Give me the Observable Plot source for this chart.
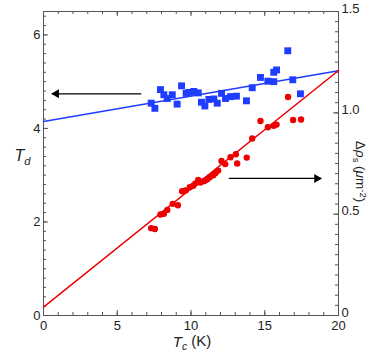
<!DOCTYPE html>
<html><head><meta charset="utf-8">
<script src="https://cdn.jsdelivr.net/npm/d3@7"></script>
<script src="https://cdn.jsdelivr.net/npm/@observablehq/plot@0.6"></script>
<style>body{margin:0;background:#fff} #chart svg{font-family:"Liberation Sans",Arial,sans-serif;}</style>
</head><body><div id="chart"></div>
<script>
// Blue squares: T_d vs T_c (left axis)
const blueTc = [7.30,7.55,7.93,8.16,8.39,8.73,9.06,9.36,9.67,9.85,10.19,10.49,10.71,10.94,11.21,11.55,11.78,12.07,12.34,12.68,13.08,13.76,14.15,14.71,15.21,15.61,15.61,15.80,16.56,16.90,17.42];
const blueTd = [4.54,4.43,4.83,4.72,4.64,4.72,4.52,4.91,4.75,4.77,4.79,4.76,4.56,4.48,4.62,4.63,4.54,4.75,4.64,4.68,4.69,4.59,4.87,5.09,5.01,5.00,5.20,5.25,5.66,5.04,4.74];
// Red circles: Δρs vs T_c (right axis)
const redTc = [7.30,7.55,7.93,8.16,8.39,8.76,9.11,9.40,9.63,9.92,10.15,10.30,10.49,10.64,10.87,11.00,11.10,11.27,11.51,11.66,11.84,12.07,12.32,12.68,13.04,13.13,13.78,14.15,14.71,15.21,15.61,15.80,16.58,16.92,17.46];
const redRho = [0.431,0.427,0.498,0.502,0.521,0.551,0.544,0.613,0.617,0.633,0.640,0.652,0.669,0.656,0.663,0.668,0.672,0.682,0.692,0.703,0.715,0.762,0.747,0.781,0.796,0.750,0.779,0.873,0.960,0.929,0.936,0.942,1.078,0.965,0.967];
// Linear fits
const fitTc = [0, 20];
const blueFitTd = [4.15, 5.235];
const redFitRho = [0.041, 1.209];
// Axes
const xTicks = [0, 5, 10, 15, 20];
const leftTicks = [0, 2, 4, 6];
const rightTicks = [0, 0.5, 1.0, 1.5];
const xMinor = d3.range(0, 20.001, 1);
const leftMinor = d3.range(0, 6.41, 0.2);
const rightMinor = d3.range(0, 1.5001, 0.05);
// Arrows (x in K, y in left-axis units)
const arrowLeft = [{x1: 6.6, x2: 0.6, y: 4.74}];
const arrowRight = [{x1: 12.6, x2: 18.8, y: 2.93}];

const K = 6.5 / 1.5; // right-axis units -> left-axis units
const W = 381, H = 353, mL = 43, mR = 43, mT = 11, mB = 38;
const pw = W - mL - mR, ph = H - mT - mB;
const blue = "#1f3dff", red = "#ee0000", axisC = "#555";

const blueData = blueTc.map((x, i) => ({x, y: blueTd[i]}));
const redData = redTc.map((x, i) => ({x, y: redRho[i] * K}));
const blueFit = fitTc.map((x, i) => ({x, y: blueFitTd[i]}));
const redFit = fitTc.map((x, i) => ({x, y: redFitRho[i] * K}));

const plot = Plot.plot({
  width: W, height: H,
  marginLeft: mL, marginRight: mR, marginTop: mT, marginBottom: mB,
  style: {fontSize: "13px", fontFamily: "'Liberation Sans', Arial, sans-serif", color: "#222"},
  x: {domain: [0, 20]},
  y: {domain: [0, 6.5]},
  marks: [
    // tick marks, inward on all four sides
    Plot.tickX(xMinor, {x: d => d, insetTop: ph - 3, stroke: axisC}),
    Plot.tickX(xTicks, {x: d => d, insetTop: ph - 5, stroke: axisC}),
    Plot.tickX(xMinor, {x: d => d, insetBottom: ph - 3, stroke: axisC}),
    Plot.tickX(xTicks, {x: d => d, insetBottom: ph - 5, stroke: axisC}),
    Plot.tickY(leftMinor, {y: d => d, insetRight: pw - 3, stroke: axisC}),
    Plot.tickY(leftTicks, {y: d => d, insetRight: pw - 5, stroke: axisC}),
    Plot.tickY(rightMinor, {y: d => d * K, insetLeft: pw - 3, stroke: axisC}),
    Plot.tickY(rightTicks, {y: d => d * K, insetLeft: pw - 5, stroke: axisC}),
    Plot.frame({stroke: axisC}),
    Plot.axisX({ticks: xTicks, tickSize: 0, tickPadding: 5, label: null, tickFormat: d => String(d)}),
    Plot.axisY({anchor: "left", ticks: leftTicks, tickSize: 0, tickPadding: 3, label: null, tickFormat: d => String(d)}),
    Plot.axisY({anchor: "right", ticks: rightTicks.map(d => d * K), tickSize: 0, tickPadding: 3, label: null, dy: -3,
      tickFormat: d => { const v = d / K; return Math.abs(v) < 1e-9 ? "0" : d3.format(".1f")(v); }}),
    // data
    Plot.dot(blueData, {x: "x", y: "y", symbol: "square", r: 3.9, fill: blue}),
    Plot.dot(redData, {x: "x", y: "y", symbol: "circle", r: 3.2, fill: red}),
    Plot.line(blueFit, {x: "x", y: "y", stroke: blue, strokeWidth: 1.5}),
    Plot.line(redFit, {x: "x", y: "y", stroke: red, strokeWidth: 1.5}),
    // arrows
    Plot.arrow(arrowLeft, {x1: "x1", x2: "x2", y1: "y", y2: "y", stroke: "black", strokeWidth: 1.2, headLength: 0}),
    Plot.arrow(arrowRight, {x1: "x1", x2: "x2", y1: "y", y2: "y", stroke: "black", strokeWidth: 1.2, headLength: 0}),
    Plot.dot(arrowLeft, {x: "x2", y: "y", symbol: "triangle", r: 3.3, fill: "black", rotate: -90, dx: 4}),
    Plot.dot(arrowRight, {x: "x2", y: "y", symbol: "triangle", r: 3.3, fill: "black", rotate: 90, dx: -4}),
    // axis titles
    Plot.text(["LBL_TD"], {frameAnchor: "left", dx: -21, dy: -8, fontSize: 16, textAnchor: "middle"}),
    Plot.text(["LBL_TC"], {frameAnchor: "bottom", dx: 1, dy: 31, fontSize: 15, textAnchor: "middle"}),
    Plot.text(["LBL_RHO"], {frameAnchor: "right", dx: 22, dy: 8, fontSize: 13.5, textAnchor: "middle", rotate: 90})
  ]
});
document.getElementById("chart").appendChild(plot);

const svg = d3.select(plot);
function rich(key, parts) {
  svg.selectAll("text").filter(function() { return this.textContent === key; }).each(function() {
    const t = d3.select(this); t.text("");
    parts.forEach(p => {
      const s = t.append("tspan").text(p.t);
      if (p.i) s.attr("font-style", "italic");
      if (p.dy) s.attr("dy", p.dy);
      if (p.fs) s.attr("font-size", p.fs);
    });
  });
}
rich("LBL_TD", [{t: "T", i: 1}, {t: "d", i: 1, dy: "0.35em", fs: "0.7em"}]);
rich("LBL_TC", [{t: "T", i: 1}, {t: "c", i: 1, dy: "0.35em", fs: "0.7em"}, {t: " (K)", dy: "-0.25em"}]);
rich("LBL_RHO", [{t: "Δ"}, {t: "ρ", i: 1}, {t: "s", dy: "0.35em", fs: "0.7em"}, {t: " (", dy: "-0.25em"}, {t: "μ", i: 1}, {t: "m"}, {t: "-2", dy: "-0.4em", fs: "0.7em"}, {t: ")", dy: "0.28em"}]);
</script>
</body></html>
